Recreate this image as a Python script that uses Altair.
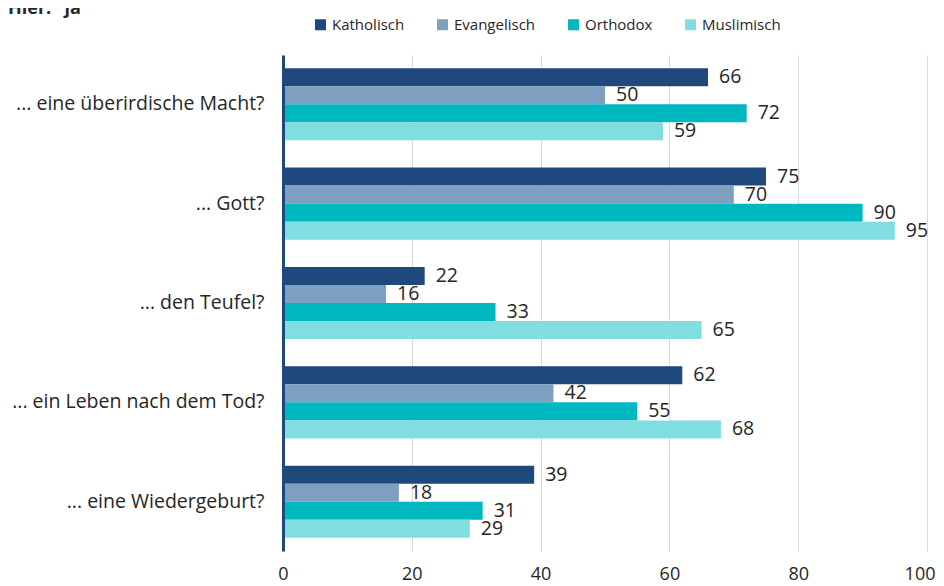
import altair as alt
import pandas as pd

title_text = 'Hier: "ja"'
categories = [
    "... eine überirdische Macht?",
    "... Gott?",
    "... den Teufel?",
    "... ein Leben nach dem Tod?",
    "... eine Wiedergeburt?",
]
religions = ["Katholisch", "Evangelisch", "Orthodox", "Muslimisch"]
katholisch = [66, 75, 22, 62, 39]
evangelisch = [50, 70, 16, 42, 18]
orthodox = [72, 90, 33, 55, 31]
muslimisch = [59, 95, 65, 68, 29]
x_ticks = [0, 20, 40, 60, 80, 100]

colors = ["#1f497d", "#7f9fc0", "#00b8bf", "#80dde0"]

series = [katholisch, evangelisch, orthodox, muslimisch]
rows = []
for rel, vals in zip(religions, series):
    for cat, v in zip(categories, vals):
        rows.append({"Frage": cat, "Konfession": rel, "Wert": v})
df = pd.DataFrame(rows)

FONT = "Open Sans"
W, H = 644, 496

y_enc = alt.Y(
    "Frage:N",
    sort=categories,
    scale=alt.Scale(paddingInner=0.274, paddingOuter=0.133),
    axis=alt.Axis(
        title=None,
        ticks=False,
        domain=True,
        domainColor="#1f497d",
        domainWidth=3,
        labelFont=FONT,
        labelFontSize=19.5,
        labelColor="#262626",
        labelPadding=19,
        grid=False,
        labelLimit=400,
        zindex=1,
    ),
)
x_enc = alt.X(
    "Wert:Q",
    scale=alt.Scale(domain=[0, 100], nice=False),
    axis=alt.Axis(
        title=None,
        values=x_ticks,
        domain=False,
        ticks=False,
        grid=True,
        gridColor="#d9d9d9",
        gridWidth=1,
        labelFont=FONT,
        labelFontSize=18,
        labelColor="#262626",
        labelPadding=14,
        labelFlush=False,
        labelOverlap=False,
        labelAlign={"condition": {"test": "datum.value == 100", "value": "right"}, "value": "center"},
        labelOffset={"condition": {"test": "datum.value == 100", "value": 8}, "value": 0},
        zindex=0,
    ),
)
yoff = alt.YOffset(
    "Konfession:N",
    sort=religions,
    scale=alt.Scale(paddingInner=0, paddingOuter=0),
)

bars = alt.Chart(df).mark_bar().encode(
    x=x_enc,
    y=y_enc,
    yOffset=yoff,
    color=alt.Color(
        "Konfession:N",
        sort=religions,
        scale=alt.Scale(domain=religions, range=colors),
        legend=alt.Legend(
            title=None,
            orient="none",
            legendX=30,
            legendY=-38,
            direction="horizontal",
            columns=4,
            columnPadding=30,
            symbolType="square",
            symbolSize=121,
            symbolStrokeWidth=0,
            labelOffset=4,
            labelFont=FONT,
            labelFontSize=15,
            labelColor="#262626",
            padding=0,
        ),
    ),
)

labels = alt.Chart(df).mark_text(
    align="left", baseline="middle", dx=11, font=FONT, fontSize=19.5, color="#262626"
).encode(
    x="Wert:Q",
    y=alt.Y("Frage:N", sort=categories),
    yOffset=alt.YOffset("Konfession:N", sort=religions),
    text="Wert:Q",
)

title = alt.Chart(pd.DataFrame({"t": [title_text]})).mark_text(
    align="left", baseline="alphabetic", font=FONT, fontSize=18, fontWeight="bold", color="#262626"
).encode(x=alt.value(-275), y=alt.value(-41), text="t:N")

chart = (
    alt.layer(bars, labels, title)
    .properties(
        width=W,
        height=H,
        autosize=alt.AutoSizeParams(type="none"),
        padding={"left": 275, "top": 47, "right": 9, "bottom": 40},
    )
    .configure_view(stroke=None)
)

chart.save("out.html", embed_options={"renderer": "svg", "actions": False})
